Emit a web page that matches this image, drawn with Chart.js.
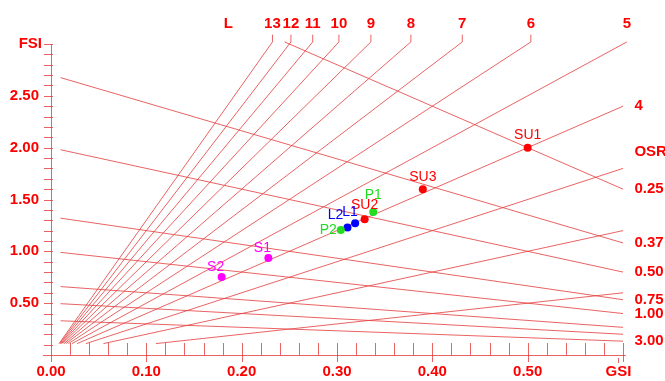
<!DOCTYPE html>
<html>
<head>
<meta charset="utf-8">
<script src="https://cdn.jsdelivr.net/npm/chart.js@4.4.1/dist/chart.umd.min.js"></script>
<style>
  body { margin: 0; background: #fff; }
  #mycanvas { display: block; }
</style>
</head>
<body>
<canvas id="mycanvas" width="665" height="381"></canvas>
<script>
// spacemate values
var pointNames = ['SU1', 'SU2', 'SU3', 'L1', 'L2', 'P1', 'P2', 'S1', 'S2'];
var pointGSI   = [0.50, 0.329, 0.39, 0.319, 0.311, 0.338, 0.304, 0.228, 0.179];
var pointFSI   = [2.00, 1.31, 1.60, 1.27, 1.23, 1.38, 1.205, 0.935, 0.752];

var layerValues = [1, 2, 3, 4, 5, 6, 7, 8, 9, 10, 11, 12, 13];
var osrValues   = [0.25, 0.37, 0.50, 0.75, 1.00, 1.50, 2.00, 3.00];
var osrLabels   = ['0.25', '0.37', '0.50', '0.75', '1.00', '', '', '3.00'];

var xTickLabels = ['0.00', '0.10', '0.20', '0.30', '0.40', '0.50'];
var yTickLabels = ['0.50', '1.00', '1.50', '2.00', '2.50'];

// styling
var RED = '#ff0000';
var LINE = 'rgba(228, 60, 60, 0.8)';
var FONT = '"Liberation Sans", Arial, sans-serif';
var groupColor = { SU: '#ff0000', L: '#0000ff', P: '#22dd22', S: '#ff00ff' };
var labelOffset = {
  SU1: [0, -13, 'center'], SU2: [0, -14, 'center'], SU3: [0, -12, 'center'],
  L1: [-5, -11, 'center'], L2: [-12, -12, 'center'],
  P1: [0, -17, 'center'], P2: [-4, 0, 'right'],
  S1: [-6, -10, 'center'], S2: [-6, -10, 'center']
};

var TOP = 3.02;    // where the layer lines stop at the top
var RIGHT = 0.6;   // where lines stop on the right
var START = 0.11;  // FSI where the layer fan starts

function colorOf(name) {
  return groupColor[name.replace(/[0-9]/g, '')];
}

var datasets = [];
function addLine(pts) {
  datasets.push({
    type: 'line', data: pts, borderColor: LINE, borderWidth: 1,
    pointRadius: 0, fill: false, clip: false, tension: 0, order: 2
  });
}

// layer lines (FSI = L * GSI)
layerValues.forEach(function (L) {
  var pts = [{ x: START / L, y: START }];
  if (L >= 5) {
    pts.push({ x: TOP / L, y: TOP });
    pts.push({ x: TOP / L, y: 3.09 });
  } else {
    pts.push({ x: RIGHT, y: RIGHT * L });
    if (L === 4) pts.push({ x: 0.61, y: RIGHT * L });
  }
  addLine(pts);
});

// OSR lines (FSI = (1 - GSI) / OSR)
osrValues.forEach(function (o, i) {
  var x0 = Math.max(0.01, 1 - TOP * o);
  var pts = [{ x: x0, y: (1 - x0) / o }, { x: RIGHT, y: (1 - RIGHT) / o }];
  if (osrLabels[i]) pts.push({ x: 0.61, y: (1 - RIGHT) / o });
  addLine(pts);
});

datasets.push({
  type: 'scatter',
  data: pointNames.map(function (n, i) { return { x: pointGSI[i], y: pointFSI[i] }; }),
  pointRadius: 4,
  pointBackgroundColor: pointNames.map(colorOf),
  pointBorderColor: pointNames.map(colorOf),
  pointBorderWidth: 0,
  clip: false, order: 1
});

function txt(ctx, s, x, y, align, font, color) {
  ctx.font = font;
  ctx.fillStyle = color || RED;
  ctx.textAlign = align;
  ctx.textBaseline = 'middle';
  ctx.fillText(s, x, y);
}

var axesPlugin = {
  id: 'spacemateAxes',
  beforeDatasetsDraw: function (chart) {
    var ctx = chart.ctx, xs = chart.scales.x, ys = chart.scales.y;
    var x0 = xs.getPixelForValue(0), y0 = ys.getPixelForValue(0);
    var xEnd = xs.getPixelForValue(0.603), yTop = ys.getPixelForValue(3.0);
    ctx.save();
    ctx.strokeStyle = LINE;
    ctx.lineWidth = 1;
    ctx.beginPath();
    ctx.moveTo(x0 - 8, y0 + 0.5); ctx.lineTo(xEnd, y0 + 0.5);
    ctx.moveTo(x0 + 0.5, y0 + 7); ctx.lineTo(x0 + 0.5, yTop);
    // x ticks every 0.02, long ones every 0.1
    for (var k = 1; k <= 30; k++) {
      var px = Math.round(xs.getPixelForValue(k * 0.02)) + 0.5;
      ctx.moveTo(px, y0 - 12);
      ctx.lineTo(px, k % 5 === 0 ? y0 + 7 : y0);
    }
    // y ticks every 0.1
    for (var j = 1; j <= 30; j++) {
      var py = Math.round(ys.getPixelForValue(j * 0.1)) + 0.5;
      ctx.moveTo(x0 - 7, py);
      ctx.lineTo(x0 + 2, py);
    }
    // GSI marker
    var gx = Math.round(xs.getPixelForValue(0.595)) + 0.5;
    ctx.moveTo(gx, y0 + 3); ctx.lineTo(gx, y0 + 8);
    ctx.stroke();

    var bold = 'bold 15px ' + FONT;
    xTickLabels.forEach(function (s) {
      txt(ctx, s, xs.getPixelForValue(parseFloat(s)), y0 + 17, 'center', bold);
    });
    txt(ctx, 'GSI', gx, y0 + 17, 'center', bold);
    yTickLabels.forEach(function (s) {
      txt(ctx, s, x0 - 12, ys.getPixelForValue(parseFloat(s)), 'right', bold);
    });
    txt(ctx, 'FSI', x0 - 9, yTop, 'right', bold);
    ctx.restore();
  },
  afterDatasetsDraw: function (chart) {
    var ctx = chart.ctx, xs = chart.scales.x, ys = chart.scales.y;
    var bold = 'bold 15px ' + FONT;
    ctx.save();
    // layer labels
    layerValues.forEach(function (L) {
      if (L >= 5) {
        txt(ctx, String(L), xs.getPixelForValue(TOP / L), ys.getPixelForValue(3.19), 'center', bold);
      }
    });
    txt(ctx, 'L', xs.getPixelForValue(0.186), ys.getPixelForValue(3.19), 'center', bold);
    var lx = xs.getPixelForValue(0.612);
    txt(ctx, '4', lx, ys.getPixelForValue(RIGHT * 4), 'left', bold);
    txt(ctx, 'OSR', lx, ys.getPixelForValue(1.96), 'left', bold);
    osrValues.forEach(function (o, i) {
      if (osrLabels[i]) txt(ctx, osrLabels[i], lx, ys.getPixelForValue((1 - RIGHT) / o), 'left', bold);
    });
    // point labels
    pointNames.forEach(function (n, i) {
      var off = labelOffset[n];
      txt(ctx, n, xs.getPixelForValue(pointGSI[i]) + off[0], ys.getPixelForValue(pointFSI[i]) + off[1],
        off[2], '14px ' + FONT, colorOf(n));
    });
    ctx.restore();
  }
};

new Chart(document.getElementById('mycanvas'), {
  type: 'scatter',
  data: { datasets: datasets },
  options: {
    responsive: false,
    animation: false,
    layout: { padding: { left: 51, right: 42, top: 44, bottom: 26 } },
    plugins: { legend: { display: false }, tooltip: { enabled: false } },
    scales: {
      x: { type: 'linear', min: 0, max: 0.6, display: false },
      y: { type: 'linear', min: 0, max: 3.0, display: false }
    }
  },
  plugins: [axesPlugin]
});
</script>
</body>
</html>
